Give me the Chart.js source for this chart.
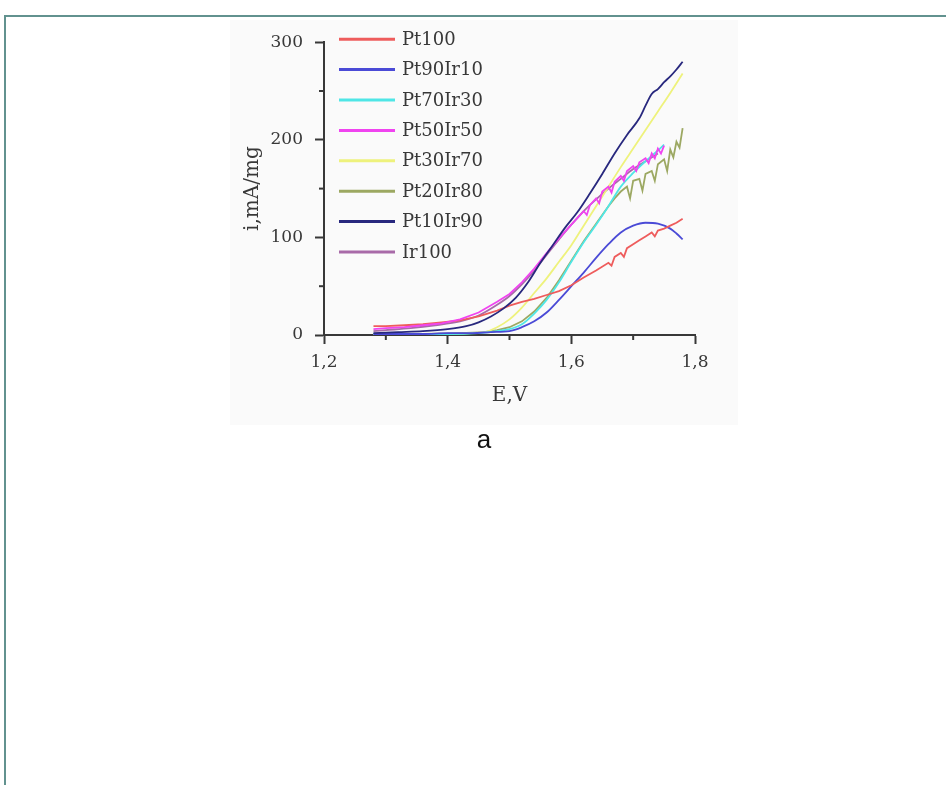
<!DOCTYPE html>
<html>
<head>
<meta charset="utf-8">
<script src="https://cdn.jsdelivr.net/npm/chart.js@4"></script>
<style>
  html, body { margin:0; padding:0; background:#fff; overflow:hidden; }
  body { width:946px; height:785px; position:relative; }
  .frame { position:absolute; left:4px; top:15px; width:2000px; height:2000px; border-left:2px solid #62928f; border-top:2px solid #62928f; }
  .plot { position:absolute; left:230px; top:20px; width:508px; height:405px; background:#fafafa; }
  .caption { position:absolute; left:384px; top:424px; width:200px; text-align:center; font:26px "Liberation Sans", Arial, sans-serif; line-height:30px; color:#111; }
</style>
</head>
<body>
<div class="frame"></div>
<div class="plot"><canvas id="chart" width="508" height="405"></canvas></div>
<div class="caption">a</div>
<script>
// legend names and colours
const names = ['Pt100','Pt90Ir10','Pt70Ir30','Pt50Ir50','Pt30Ir70','Pt20Ir80','Pt10Ir90','Ir100'];
const colors = ['#ee5c5c','#4a4ad6','#4fe6e6','#f044f0','#eef27c','#9ca862','#28287e','#a86aa8'];

// E, V  /  i, mA/mg
const E_pt100 = [1.28,1.30,1.33,1.36,1.39,1.42,1.45,1.48,1.50,1.52,1.54,1.56,1.58,1.60,1.62,1.64,1.66,1.665,1.67,1.68,1.685,1.69,1.70,1.71,1.72,1.73,1.735,1.74,1.75,1.76,1.77,1.78];
const I_pt100 = [9,9,10,11,13,15,19,25,30,34,37,41,45,51,59,66,74,71,80,84,80,89,93,97,101,105,101,107,109,112,115,119];

const E_pt90 = [1.28,1.32,1.36,1.40,1.44,1.47,1.50,1.52,1.54,1.56,1.58,1.60,1.62,1.64,1.66,1.68,1.70,1.72,1.74,1.76,1.77,1.78];
const I_pt90 = [1,1,1,2,2,3,4,8,14,23,36,50,64,79,93,105,112,115,114,109,104,98];

const E_pt70 = [1.28,1.34,1.40,1.45,1.48,1.50,1.52,1.54,1.56,1.58,1.60,1.62,1.64,1.66,1.68,1.70,1.72,1.74,1.75];
const I_pt70 = [1,1,1,2,4,6,11,22,36,54,75,95,113,132,152,166,178,189,195];

const E_pt50 = [1.28,1.30,1.33,1.36,1.39,1.42,1.45,1.48,1.50,1.52,1.54,1.56,1.58,1.60,1.61,1.62,1.625,1.63,1.64,1.645,1.65,1.66,1.665,1.67,1.68,1.685,1.69,1.70,1.705,1.71,1.72,1.725,1.73,1.735,1.74,1.745,1.75];
const I_pt50 = [6,7,8,10,12,16,23,34,42,54,68,84,99,113,120,127,123,133,140,135,147,152,146,157,163,158,168,173,168,177,181,176,186,181,191,186,194];

const E_pt30 = [1.28,1.35,1.40,1.44,1.46,1.48,1.50,1.52,1.54,1.56,1.58,1.60,1.62,1.64,1.66,1.68,1.70,1.72,1.74,1.76,1.78];
const I_pt30 = [1,1,1,2,3,8,16,28,43,58,75,92,112,132,152,172,191,210,229,248,268];

const E_pt20 = [1.28,1.36,1.42,1.46,1.48,1.50,1.52,1.54,1.56,1.58,1.60,1.62,1.64,1.66,1.67,1.68,1.69,1.695,1.70,1.71,1.715,1.72,1.73,1.735,1.74,1.75,1.755,1.76,1.765,1.77,1.775,1.78];
const I_pt20 = [1,1,2,3,5,8,14,24,38,56,76,96,114,132,140,147,152,140,158,160,148,165,168,158,175,180,168,190,182,198,192,212];

const E_pt10 = [1.28,1.32,1.36,1.40,1.43,1.45,1.47,1.49,1.51,1.53,1.55,1.57,1.59,1.61,1.63,1.65,1.67,1.69,1.71,1.72,1.73,1.74,1.75,1.76,1.77,1.78];
const I_pt10 = [2,3,4,6,9,13,19,27,38,54,74,92,110,126,145,165,186,205,222,235,247,252,259,265,272,280];

const E_ir100 = [1.28,1.30,1.34,1.38,1.42,1.45,1.48,1.50,1.52,1.54,1.56,1.58,1.60,1.62,1.64,1.66,1.68,1.70,1.72,1.74];
const I_ir100 = [4,5,7,10,14,20,31,40,52,66,82,98,113,127,139,150,160,170,178,186];

const xTicks = [1.2,1.4,1.6,1.8];
const yTicks = [0,100,200,300];

const series = [
  [E_pt100, I_pt100, false],
  [E_pt90, I_pt90, true],
  [E_pt70, I_pt70, true],
  [E_pt50, I_pt50, false],
  [E_pt30, I_pt30, true],
  [E_pt20, I_pt20, false],
  [E_pt10, I_pt10, true],
  [E_ir100, I_ir100, true]
];

const serif = '"DejaVu Serif", "Liberation Serif", serif';
const ink = '#383838';

function isMajor(list, v){ return list.some(t => Math.abs(t - v) < 1e-6); }

// short minor ticks, drawn after the axes
const minorTicks = {
  id:'minorTicks',
  afterDraw(chart){
    const ctx = chart.ctx;
    const xs = chart.scales.x, ys = chart.scales.y;
    ctx.save();
    ctx.strokeStyle = ink;
    ctx.lineWidth = 2;
    xs.ticks.forEach(t => {
      if(isMajor(xTicks, t.value)) return;
      const px = xs.getPixelForValue(t.value);
      ctx.beginPath(); ctx.moveTo(px, xs.top); ctx.lineTo(px, xs.top + 5); ctx.stroke();
    });
    ys.ticks.forEach(t => {
      if(isMajor(yTicks, t.value)) return;
      const py = ys.getPixelForValue(t.value);
      ctx.beginPath(); ctx.moveTo(ys.right, py); ctx.lineTo(ys.right - 5, py); ctx.stroke();
    });
    ctx.restore();
  }
};

// legend inside the plot, upper left
const innerLegend = {
  id:'innerLegend',
  afterDraw(chart){
    const ctx = chart.ctx;
    const area = chart.chartArea;
    const x0 = area.left + 15, y0 = area.top - 3;
    ctx.save();
    ctx.font = '18px ' + serif;
    ctx.textBaseline = 'middle';
    ctx.textAlign = 'left';
    chart.data.datasets.forEach((ds, i) => {
      const y = y0 + i * 30.4;
      ctx.strokeStyle = ds.borderColor;
      ctx.lineWidth = 3;
      ctx.beginPath(); ctx.moveTo(x0, y); ctx.lineTo(x0 + 56, y); ctx.stroke();
      ctx.fillStyle = ink;
      ctx.fillText(ds.label, x0 + 63, y + 1);
    });
    ctx.restore();
  }
};

const datasets = series.map(([es, is, smooth], i) => ({
  label: names[i],
  data: es.map((e, k) => ({ x:e, y:is[k] })),
  borderColor: colors[i],
  backgroundColor: colors[i],
  borderWidth: 1.8,
  pointRadius: 0,
  fill: false,
  clip: false,
  cubicInterpolationMode: smooth ? 'monotone' : 'default',
  tension: 0,
  order: i === 6 ? 0 : (i === 3 ? 1 : i + 2)
}));

new Chart(document.getElementById('chart'), {
  type:'line',
  data:{ datasets },
  options:{
    responsive:false,
    animation:false,
    layout:{ padding:{ left:0, top:20, right:43, bottom:0 } },
    plugins:{ legend:{ display:false }, tooltip:{ enabled:false } },
    scales:{
      x:{
        type:'linear', min:1.2, max:1.8,
        afterFit(s){ s.height = 90; },
        ticks:{
          stepSize:0.1, autoSkip:false, padding:8, color:ink,
          font:{ family:serif, size:17 },
          callback:v => isMajor(xTicks, v) ? v.toFixed(1).replace('.', ',') : ''
        },
        grid:{ drawOnChartArea:false, tickLength:9, tickWidth:2,
          tickColor:c => isMajor(xTicks, c.tick.value) ? ink : 'transparent' },
        border:{ color:ink, width:2 },
        title:{ display:true, text:'E,V', color:ink, font:{ family:serif, size:20 }, padding:{ top:0, bottom:17 } }
      },
      y:{
        min:0, max:300,
        afterFit(s){ s.width = 94; },
        ticks:{
          stepSize:50, autoSkip:false, padding:12, color:ink,
          font:{ family:serif, size:17 },
          callback:v => isMajor(yTicks, v) ? String(v) : ''
        },
        grid:{ drawOnChartArea:false, tickLength:9, tickWidth:2,
          tickColor:c => isMajor(yTicks, c.tick.value) ? ink : 'transparent' },
        border:{ color:ink, width:2 },
        title:{ display:true, text:'i,mA/mg', color:ink, font:{ family:serif, size:20 }, padding:{ top:11, bottom:0 } }
      }
    }
  },
  plugins:[minorTicks, innerLegend]
});
</script>
</body>
</html>
